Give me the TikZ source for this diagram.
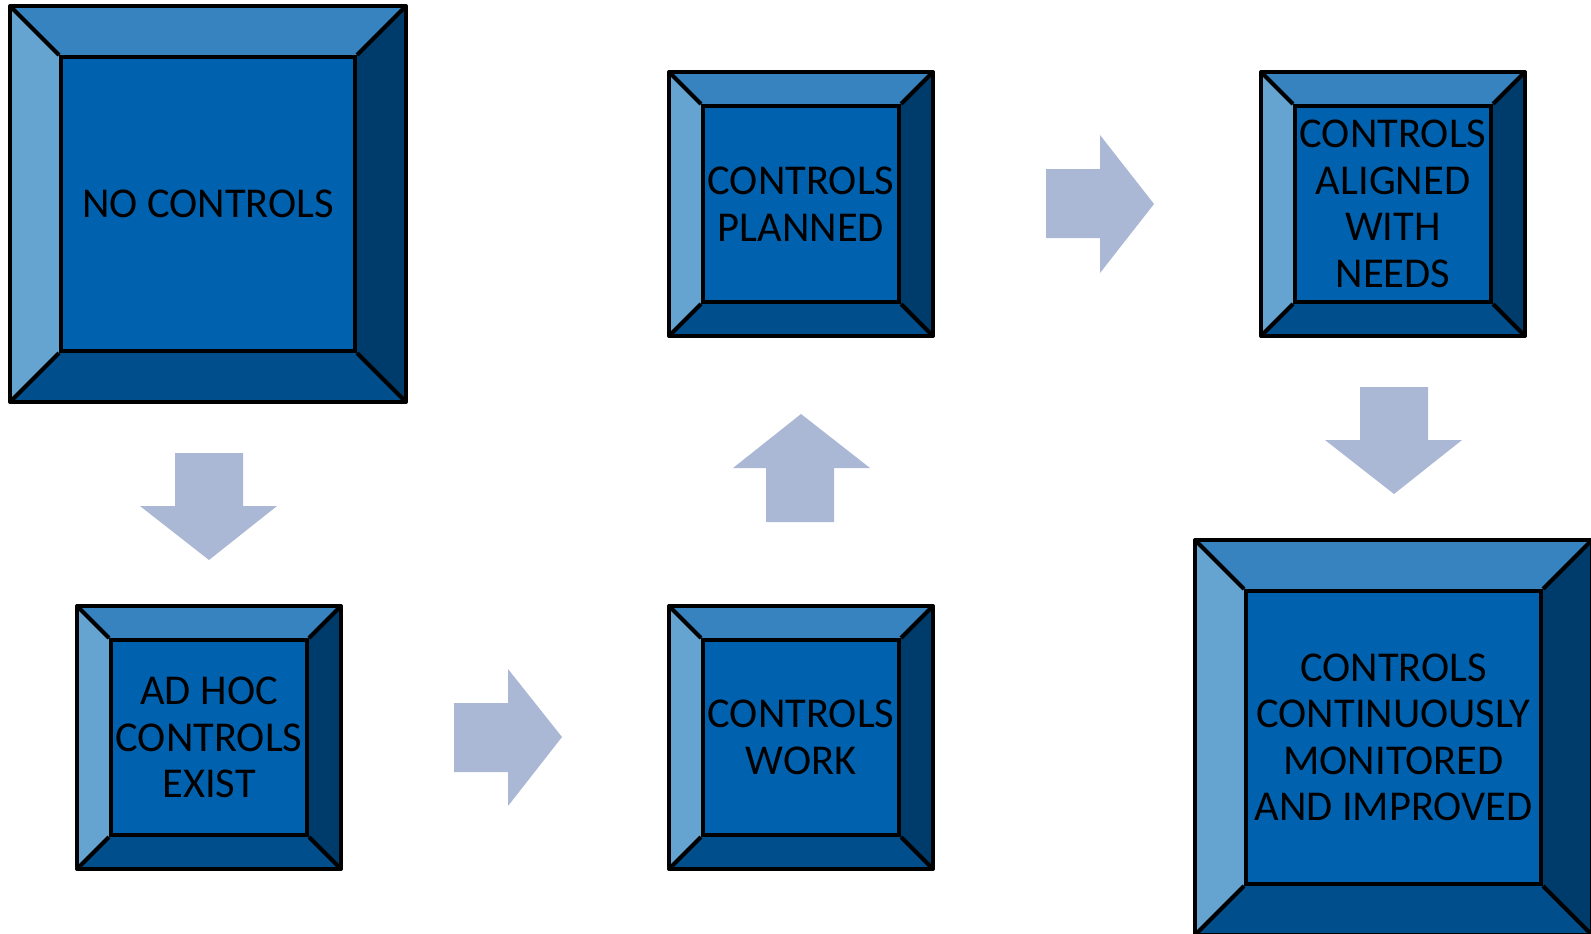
\documentclass[tikz,border=0pt]{standalone}
\usepackage{fontspec}
\setmainfont{Carlito}
\definecolor{ctop}{HTML}{3783C0}
\definecolor{cleft}{HTML}{65A3D1}
\definecolor{cmid}{HTML}{0062AE}
\definecolor{cbot}{HTML}{004E8C}
\definecolor{cright}{HTML}{003C6B}
\definecolor{carrow}{HTML}{AAB8D5}
\tikzset{
  face/.style={draw=black, line width=4pt, fill=cmid, inner sep=0pt, align=center,
    font=\fontsize{42.5}{46.5}\selectfont, text=black},
  edge/.style={draw=black, line width=4pt, line join=round},
  blockarrow/.style={fill=carrow, draw=none},
}
% name, x1, y1, x2, y2, bevel, text
\newcommand\bevbox[7]{%
  \pgfmathsetmacro\ax{#2+#6}\pgfmathsetmacro\ay{#3+#6}%
  \pgfmathsetmacro\bx{#4-#6}\pgfmathsetmacro\by{#5-#6}%
  \pgfmathsetmacro\cx{(#2+#4)/2}\pgfmathsetmacro\cy{(#3+#5)/2}%
  \pgfmathsetmacro\iw{#4-#2-2*#6}\pgfmathsetmacro\ih{#5-#3-2*#6}%
  \fill[ctop] (#2,#3) -- (#4,#3) -- (\bx,\ay) -- (\ax,\ay) -- cycle;
  \fill[cleft] (#2,#3) -- (\ax,\ay) -- (\ax,\by) -- (#2,#5) -- cycle;
  \fill[cright] (#4,#3) -- (#4,#5) -- (\bx,\by) -- (\bx,\ay) -- cycle;
  \fill[cbot] (#2,#5) -- (\ax,\by) -- (\bx,\by) -- (#4,#5) -- cycle;
  \node[face, minimum width=\iw pt, minimum height=\ih pt] (#1) at (\cx,\cy) {#7};
  \draw[edge] (#2,#3) rectangle (#4,#5);
  \draw[edge] (#2,#3) -- (#1.north west);
  \draw[edge] (#4,#3) -- (#1.north east);
  \draw[edge] (#2,#5) -- (#1.south west);
  \draw[edge] (#4,#5) -- (#1.south east);
}
\begin{document}
\begin{tikzpicture}[x=1pt,y=-1pt]
\useasboundingbox (0,0) rectangle (1591,934);
\bevbox{none}{10}{6}{406}{402}{51}{NO CONTROLS}
\bevbox{adhoc}{77}{606}{341}{869}{34}{AD HOC\\CONTROLS\\EXIST}
\bevbox{work}{669}{606}{933}{869}{34}{CONTROLS\\WORK}
\bevbox{planned}{669}{72}{933}{336}{34}{CONTROLS\\PLANNED}
\bevbox{aligned}{1261}{72}{1525}{336}{34}{CONTROLS\\ALIGNED\\WITH\\NEEDS}
\bevbox{cont}{1195}{540}{1592}{935}{51}{CONTROLS\\CONTINUOUSLY\\MONITORED\\AND IMPROVED}
% block arrows
\fill[blockarrow] (175,453) -- (243,453) -- (243,506) -- (277,506) -- (209,560) -- (140,506) -- (175,506) -- cycle;
\fill[blockarrow] (454,703) -- (508,703) -- (508,669) -- (562,737) -- (508,806) -- (508,772) -- (454,772) -- cycle;
\fill[blockarrow] (766,522) -- (766,468) -- (733,468) -- (801,414) -- (870,468) -- (834,468) -- (834,522) -- cycle;
\fill[blockarrow] (1046,169) -- (1100,169) -- (1100,135) -- (1154,204) -- (1100,273) -- (1100,238) -- (1046,238) -- cycle;
\fill[blockarrow] (1360,387) -- (1428,387) -- (1428,440) -- (1462,440) -- (1394,494) -- (1325,440) -- (1360,440) -- cycle;
\end{tikzpicture}
\end{document}
